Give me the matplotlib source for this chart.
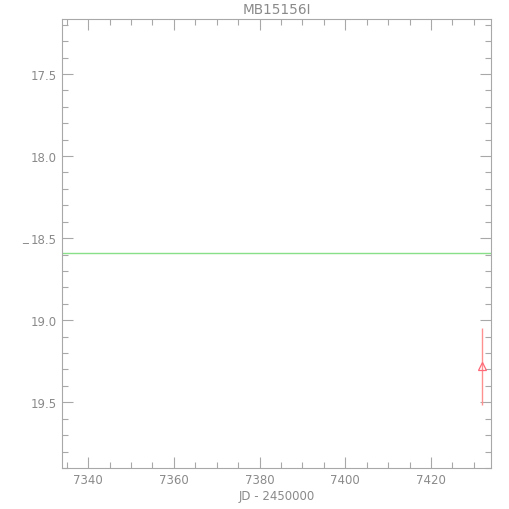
import matplotlib
matplotlib.use("Agg")
import matplotlib.pyplot as plt
from matplotlib.ticker import MultipleLocator

title = "MB15156I"
xlabel = "JD - 2450000"
ylabel = "_"
xlim = (7333.9, 7434.0)
ylim = (19.9, 17.165)

pt_jd = [7431.9]
pt_mag = [19.28]
pt_err = [0.235]

ref_mag = 18.59

grey = "#a8a8a8"
tgrey = "#8a8a8a"
plt.rcParams['font.family'] = ['DejaVu Sans']

fig = plt.figure(figsize=(5.1, 5.1), dpi=100)
ax = fig.add_axes([62/510, 1-469/510, (491-62)/510, (469-20)/510])

ax.axhline(ref_mag, color="#88e088", lw=1.0)
ax.errorbar(pt_jd, pt_mag, yerr=pt_err, fmt='none', ecolor="#ff9090", elinewidth=1.0, capsize=0)
ax.plot(pt_jd, pt_mag, marker='^', ls='none', ms=6, mfc='none', mec="#ff6878", mew=0.9)

ax.set_xlim(*xlim)
ax.set_ylim(*ylim)
ax.xaxis.set_major_locator(MultipleLocator(20))
ax.xaxis.set_minor_locator(MultipleLocator(5))
ax.yaxis.set_major_locator(MultipleLocator(0.5))
ax.yaxis.set_minor_locator(MultipleLocator(0.1))
ax.tick_params(which='both', direction='in', top=True, right=True, colors=grey,
               labelcolor=tgrey, labelsize=8.5)
ax.tick_params(which='major', length=8, width=0.8)
ax.tick_params(which='minor', length=4, width=0.8)
for s in ax.spines.values():
    s.set_color(grey)
    s.set_linewidth(0.8)

ax.set_title(title, color=tgrey, fontsize=9.8, pad=4)
ax.set_xlabel(xlabel, color=tgrey, fontsize=8.5, labelpad=2)
ax.set_ylabel(ylabel, color=tgrey, fontsize=8.5, rotation=0, labelpad=4)

fig.savefig("out.png", dpi=100)
